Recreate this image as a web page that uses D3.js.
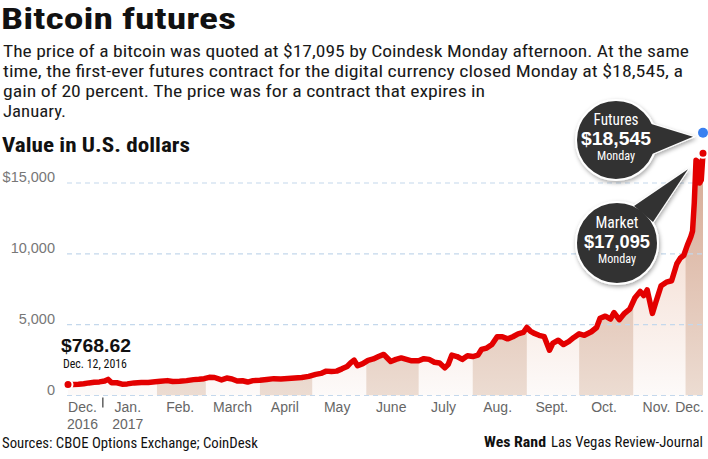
<!DOCTYPE html>
<html>
<head>
<meta charset="utf-8">
<script src="https://cdn.jsdelivr.net/npm/d3@7"></script>
<style>
  body { margin: 0; background: #fff; }
  svg { display: block; }
  .narrow { font-family: "Liberation Sans Narrow", "Roboto Condensed", "DejaVu Sans Condensed", "Open Sans", sans-serif; }
  .reg { font-family: "Liberation Sans", Arial, sans-serif; }
</style>
</head>
<body>
<svg id="chart" width="708" height="459"></svg>
<script>
// *************** DATA ***************
const priceDates = [
  "2016-12-12","2016-12-15","2016-12-18","2016-12-21","2016-12-24","2016-12-27","2016-12-30",
  "2017-01-02","2017-01-04","2017-01-06","2017-01-09","2017-01-12","2017-01-15","2017-01-19",
  "2017-01-23","2017-01-27","2017-01-31","2017-02-03","2017-02-07","2017-02-10","2017-02-14",
  "2017-02-18","2017-02-22","2017-02-25","2017-02-28","2017-03-03","2017-03-06","2017-03-10",
  "2017-03-13","2017-03-16","2017-03-19","2017-03-22","2017-03-25","2017-03-28","2017-04-01",
  "2017-04-05","2017-04-09","2017-04-13","2017-04-17","2017-04-21","2017-04-25","2017-04-29",
  "2017-05-03","2017-05-06","2017-05-09","2017-05-12","2017-05-15","2017-05-18","2017-05-21",
  "2017-05-23","2017-05-25","2017-05-27","2017-05-30","2017-06-02","2017-06-05","2017-06-08",
  "2017-06-11","2017-06-13","2017-06-15","2017-06-18","2017-06-21","2017-06-24","2017-06-27",
  "2017-07-01","2017-07-04","2017-07-07","2017-07-10","2017-07-13","2017-07-16","2017-07-18",
  "2017-07-20","2017-07-23","2017-07-26","2017-07-29","2017-08-01","2017-08-04","2017-08-06",
  "2017-08-09","2017-08-12","2017-08-15","2017-08-18","2017-08-21","2017-08-24","2017-08-27",
  "2017-08-30","2017-09-01","2017-09-03","2017-09-05","2017-09-08","2017-09-11","2017-09-14",
  "2017-09-16","2017-09-19","2017-09-22","2017-09-25","2017-09-28","2017-10-01","2017-10-04",
  "2017-10-08","2017-10-11","2017-10-13","2017-10-16","2017-10-19","2017-10-21","2017-10-24",
  "2017-10-27","2017-10-30","2017-11-02","2017-11-05","2017-11-07","2017-11-09","2017-11-12",
  "2017-11-14","2017-11-17","2017-11-20","2017-11-23","2017-11-26","2017-11-28","2017-11-30",
  "2017-12-02","2017-12-04","2017-12-05","2017-12-06","2017-12-07","2017-12-08","2017-12-09",
  "2017-12-10","2017-12-11"
];
const priceValues = [
  769, 778, 790, 830, 890, 930, 960,
  1020, 1140, 900, 900, 800, 820, 890,
  920, 920, 970, 1010, 1050, 990, 1000,
  1050, 1120, 1150, 1190, 1280, 1270, 1100,
  1230, 1170, 1020, 1040, 950, 1050, 1080,
  1130, 1190, 1170, 1200, 1240, 1270, 1350,
  1490, 1560, 1720, 1690, 1720, 1880, 2050,
  2300, 2500, 2100, 2250, 2480, 2580, 2750,
  2900, 2650, 2400, 2550, 2650, 2550, 2450,
  2450, 2600, 2550, 2350, 2300, 1950, 2200,
  2850, 2750, 2550, 2800, 2750, 2850, 3250,
  3350, 3600, 4150, 4150, 4000, 4150, 4350,
  4450, 4800, 4550, 4400, 4250, 4150, 3200,
  3700, 3900, 3600, 3800, 4100, 4350, 4250,
  4500, 4800, 5450, 5600, 5400, 5850, 5350,
  5800, 6100, 6900, 7350, 7050, 7450, 5800,
  6600, 7750, 8000, 8100, 9300, 9700, 9900,
  10600, 11200, 11600, 13600, 16600, 16500, 15000,
  15200, 17095
];

const futuresValue = 18545;
const marketValue = 17095;

const yTicks = [0, 5000, 10000, 15000];
const monthLabelDates = ["2016-12-20","2017-01-15","2017-02-14","2017-03-16","2017-04-15","2017-05-15",
                         "2017-06-15","2017-07-15","2017-08-15","2017-09-15","2017-10-15","2017-11-14","2017-12-03"];
const monthLabels = ["Dec.","Jan.","Feb.","March","April","May","June","July","Aug.","Sept.","Oct.","Nov.","Dec."];
const yearLabels = ["2016","2017","","","","","","","","","","",""];
const shadedMonths = ["2017-02-01","2017-04-01","2017-06-01","2017-08-01","2017-10-01","2017-12-01"];

const bodyLines = [
  "The price of a bitcoin was quoted at $17,095 by Coindesk Monday afternoon. At the same",
  "time, the first-ever futures contract for the digital currency closed Monday at $18,545, a",
  "gain of 20 percent. The price was for a contract that expires in",
  "January."
];
const bodyWidths = [686, 680, 482, 63];

// *************** SETUP ***************
const parse = d3.timeParse("%Y-%m-%d");
const series = priceDates.map((d, i) => ({ date: parse(d), value: priceValues[i] }));
const first = series[0], last = series[series.length - 1];

const svg = d3.select("#chart");
const defs = svg.append("defs");

const x = d3.scaleTime()
            .domain([first.date, last.date])
            .range([68, 703]);
const y = d3.scaleLinear()
            .domain([0, 15000])
            .range([395.5, 183]);

const red = "#e30000";

function label(parent, cls, x0, y0, str, size, weight, fill, len, anchor) {
  const t = parent.append("text")
    .attr("class", cls)
    .attr("x", x0)
    .attr("y", y0)
    .attr("font-size", size)
    .attr("font-weight", weight)
    .attr("fill", fill)
    .attr("text-anchor", anchor || "start")
    .text(str);
  if (len) t.attr("textLength", len).attr("lengthAdjust", "spacingAndGlyphs");
  return t;
}

// *************** HEADER ***************
label(svg, "narrow", 1, 29, "Bitcoin futures", 30, 700, "#111", 235);
bodyLines.forEach((s, i) => label(svg, "narrow", 3, 57 + i * 20, s, 17, 400, "#1a1a1a", bodyWidths[i]));
label(svg, "narrow", 2, 152, "Value in U.S. dollars", 21, 700, "#111", 188);

// *************** GRADIENTS ***************
const areaGrad = defs.append("linearGradient")
  .attr("id", "areaGrad")
  .attr("gradientUnits", "userSpaceOnUse")
  .attr("x1", 0).attr("x2", 0)
  .attr("y1", y(16000)).attr("y2", y(0));
areaGrad.append("stop").attr("offset", "0%").attr("stop-color", "#f0d3c4");
areaGrad.append("stop").attr("offset", "100%").attr("stop-color", "#fdfaf9");

const bandGrad = defs.append("linearGradient")
  .attr("id", "bandGrad")
  .attr("gradientUnits", "userSpaceOnUse")
  .attr("x1", 0).attr("x2", 0)
  .attr("y1", y(16000)).attr("y2", y(0));
bandGrad.append("stop").attr("offset", "0%").attr("stop-color", "#d8ac97");
bandGrad.append("stop").attr("offset", "100%").attr("stop-color", "#ecdcd2");

const shadow = defs.append("filter")
  .attr("id", "shadow")
  .attr("x", "-30%").attr("y", "-30%")
  .attr("width", "160%").attr("height", "160%");
shadow.append("feDropShadow")
  .attr("dx", 1).attr("dy", 2)
  .attr("stdDeviation", 2)
  .attr("flood-color", "#000")
  .attr("flood-opacity", 0.35);

// *************** AREA + BANDS ***************
const area = d3.area()
  .x(d => x(d.date))
  .y0(y(0))
  .y1(d => y(d.value));

defs.append("clipPath")
  .attr("id", "areaClip")
  .append("path")
  .attr("d", area(series));

svg.append("path")
  .attr("d", area(series))
  .attr("fill", "url(#areaGrad)");

svg.append("g")
  .attr("clip-path", "url(#areaClip)")
  .selectAll("rect")
  .data(shadedMonths.map(parse))
  .join("rect")
  .attr("x", d => x(d))
  .attr("y", y(17000))
  .attr("width", d => Math.min(x(d3.timeMonth.offset(d, 1)), x(last.date)) - x(d))
  .attr("height", y(0) - y(17000))
  .attr("fill", "url(#bandGrad)");

// *************** GRID + Y AXIS ***************
svg.append("g")
  .selectAll("line")
  .data(yTicks)
  .join("line")
  .attr("x1", 67)
  .attr("x2", 705)
  .attr("y1", d => y(d))
  .attr("y2", d => y(d))
  .attr("stroke", "#c4d8ec")
  .attr("stroke-width", 1.2)
  .attr("stroke-dasharray", "5,4");

const yAxis = svg.append("g")
  .attr("class", "reg")
  .attr("transform", "translate(57,0)")
  .call(d3.axisLeft(y)
          .tickValues(yTicks)
          .tickSize(0)
          .tickPadding(2)
          .tickFormat(d => (d === 15000 ? "$" : "") + d3.format(",")(d)));
yAxis.select(".domain").remove();
yAxis.selectAll("text")
  .attr("font-family", null)
  .attr("font-size", 14.5)
  .attr("fill", "#777")
  .attr("dy", -1.5);

// *************** X AXIS ***************
const xAxis = svg.append("g")
  .attr("class", "reg")
  .attr("transform", `translate(0,${y(0)})`)
  .call(d3.axisBottom(x)
          .tickValues(monthLabelDates.map(parse))
          .tickSize(0)
          .tickFormat((d, i) => monthLabels[i]));
xAxis.select(".domain").remove();
xAxis.selectAll("text")
  .attr("font-family", null)
  .attr("font-size", 14)
  .attr("fill", "#666")
  .attr("y", 16.5)
  .attr("dy", 0)
  .each(function(d, i) {
    if (yearLabels[i]) {
      d3.select(this).append("tspan")
        .attr("x", 0)
        .attr("dy", 17)
        .text(yearLabels[i]);
    }
  });

// year divider tick
const jan1 = parse("2017-01-01");
svg.append("line")
  .attr("x1", x(jan1)).attr("x2", x(jan1))
  .attr("y1", y(0) + 2).attr("y2", y(0) + 12)
  .attr("stroke", "#111")
  .attr("stroke-width", 1);

// *************** LINE ***************
const line = d3.line()
  .x(d => x(d.date))
  .y(d => y(d.value));

svg.append("path")
  .datum(series)
  .attr("d", line)
  .attr("fill", "none")
  .attr("stroke", red)
  .attr("stroke-width", 5.5)
  .attr("stroke-linejoin", "round")
  .attr("stroke-linecap", "round");

svg.append("circle")
  .attr("cx", x(first.date))
  .attr("cy", y(first.value))
  .attr("r", 4.5)
  .attr("fill", red)
  .attr("stroke", "#fff")
  .attr("stroke-width", 2);

label(svg, "reg", 61, 352, "$768.62", 18, 700, "#111", 70);
label(svg, "narrow", 63, 368, "Dec. 12, 2016", 13, 400, "#111", 64);

// *************** CALLOUTS ***************
const endX = x(last.date);
const futY = y(futuresValue), mktY = y(marketValue);

function bubble(cx, cy, r, base1, base2, tip, lines) {
  const g = svg.append("g").attr("filter", "url(#shadow)");
  const pts = [base1, tip, base2].map(p => p.join(",")).join(" ");
  g.append("polygon").attr("points", pts)
    .attr("fill", "#333").attr("stroke", "#fff").attr("stroke-width", 2).attr("stroke-linejoin", "miter");
  g.append("circle").attr("cx", cx).attr("cy", cy).attr("r", r)
    .attr("fill", "#333").attr("stroke", "#fff").attr("stroke-width", 2);
  g.append("polygon").attr("points", pts).attr("fill", "#333");
  lines.forEach(l => label(svg, l.cls, cx, cy + l.dy, l.text, l.size, l.weight, "#fff", l.len, "middle"));
}

bubble(616, 140, 40, [648, 123], [652, 154], [endX - 10, futY + 4], [
  { text: "Futures", dy: -15, size: 16, weight: 400, len: 45, cls: "narrow" },
  { text: "$18,545", dy: 5, size: 18, weight: 700, len: 70, cls: "reg" },
  { text: "Monday", dy: 20, size: 12.5, weight: 400, len: 38, cls: "narrow" }
]);

bubble(617, 243, 41, [634, 206], [653, 222], [endX - 15, mktY + 16], [
  { text: "Market", dy: -15, size: 16, weight: 400, len: 43, cls: "narrow" },
  { text: "$17,095", dy: 5, size: 18, weight: 700, len: 66, cls: "reg" },
  { text: "Monday", dy: 20, size: 12.5, weight: 400, len: 38, cls: "narrow" }
]);

svg.append("circle")
  .attr("cx", endX)
  .attr("cy", futY)
  .attr("r", 5)
  .attr("fill", "#3a80f0");

svg.append("circle")
  .attr("cx", endX)
  .attr("cy", mktY)
  .attr("r", 4.5)
  .attr("fill", red)
  .attr("stroke", "#fff")
  .attr("stroke-width", 2);

// *************** FOOTER ***************
label(svg, "narrow", 2, 448, "Sources: CBOE Options Exchange; CoinDesk", 14, 400, "#111", 256);
label(svg, "narrow", 484, 447, "Wes Rand", 14, 700, "#111", 62);
label(svg, "narrow", 551, 447, "Las Vegas Review-Journal", 14, 400, "#111", 152);
</script>
</body>
</html>
